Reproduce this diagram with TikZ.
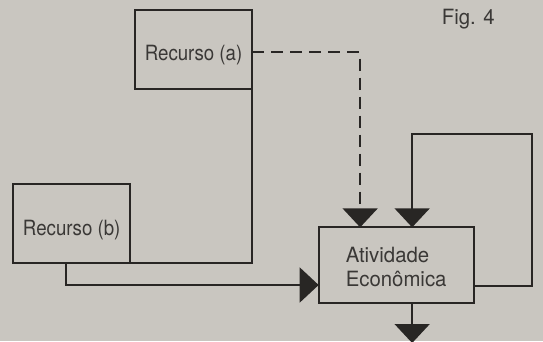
\documentclass[tikz,border=0pt]{standalone}
\usepackage{fontspec}
\setmainfont{TeX Gyre Heros}
\newfontfamily\narrowA[FakeStretch=0.89]{TeX Gyre Heros}
\newfontfamily\narrowB[FakeStretch=0.97]{TeX Gyre Heros}
\usetikzlibrary{arrows.meta}
\definecolor{paper}{RGB}{201,198,192}
\definecolor{ink}{RGB}{40,38,36}
\definecolor{txt}{RGB}{58,56,54}
\begin{document}
\begin{tikzpicture}[x=1pt,y=-1pt,
  box/.style={draw=ink,line width=2pt,inner sep=0pt,outer sep=0pt,text=txt},
  fa/.style={font=\narrowA\fontsize{21}{24}\selectfont},
  fb/.style={font=\narrowB\fontsize{21}{24}\selectfont},
  conn/.style={draw=ink,line width=2pt},
  tri/.style={-{Triangle[width=35pt,length=19pt]}},
  dashconn/.style={conn,dash pattern=on 12pt off 7pt}]
\fill[paper] (0,0) rectangle (543,341);
\useasboundingbox (0,0) rectangle (543,341);
\node[box,fa,minimum width=117.7pt,minimum height=78.7pt,text height=22.7pt,text depth=0pt] (ra) at (193.55,49.35) {Recurso (a)};
\node[box,fa,minimum width=117pt,minimum height=78.7pt,text height=22.7pt,text depth=0pt] (rb) at (71.7,223.65) {Recurso (b)};
\node[box,fb,minimum width=155pt,minimum height=75.4pt,align=left,text height=43.4pt,text depth=0pt] (at) at (396.15,265) {Atividade\\Econômica};
\node[anchor=base west,text=txt,fb,inner sep=0pt] (fig) at (441.7,24.5) {Fig. 4};
\coordinate (lp) at (532.2,134);
\coordinate (out) at (412.15,343);
% dashed connector from Recurso (a)
\draw[dashconn,tri] ([yshift=-3pt]ra.east) -| ([xshift=-36pt]at.north);
% solid line from Recurso (a) to Recurso (b)
\draw[conn] (ra.south east) |- (rb.south east);
% Recurso (b) to Atividade
\draw[conn,tri] ([xshift=-6pt]rb.south) |- ([yshift=-20pt]at.west);
% feedback loop
\draw[conn,tri] ([yshift=-21pt]at.east) -| (lp) -| ([xshift=16pt]at.north);
% output
\draw[conn,tri] ([xshift=16pt]at.south) -- (out);
\end{tikzpicture}
\end{document}
